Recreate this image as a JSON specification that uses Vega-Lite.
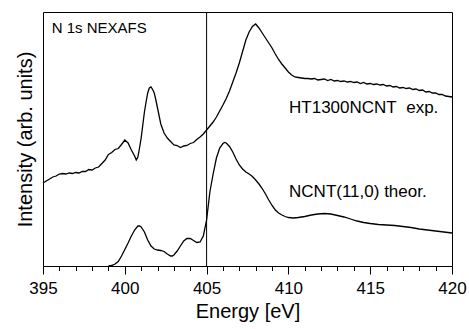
{
  "$schema": "https://vega.github.io/schema/vega-lite/v6.json",
  "width": 409,
  "height": 254,
  "autosize": "none",
  "padding": {"left": 43, "top": 12, "right": 17, "bottom": 63},
  "background": "white",
  "config": {
    "view": {"stroke": "black", "strokeWidth": 1},
    "font": "Liberation Sans",
    "axis": {"labelColor": "black", "titleColor": "black", "tickColor": "black", "titleFontWeight": "normal", "grid": false},
    "axisX": {"labelOverlap": false, "labelFlush": false, "labelBound": false}
  },
  "resolve": {"axis": {"x": "independent"}},
  "datasets": {
    "exp": [
      {"energy": 395.0, "intensity": 83}, {"energy": 395.2, "intensity": 85}, {"energy": 395.4, "intensity": 87},
      {"energy": 395.6, "intensity": 89}, {"energy": 395.8, "intensity": 90}, {"energy": 396.0, "intensity": 92},
      {"energy": 396.2, "intensity": 92.5}, {"energy": 396.4, "intensity": 92}, {"energy": 396.6, "intensity": 93},
      {"energy": 396.8, "intensity": 92.5}, {"energy": 397.0, "intensity": 93.5}, {"energy": 397.2, "intensity": 93},
      {"energy": 397.4, "intensity": 94.5}, {"energy": 397.6, "intensity": 94.5}, {"energy": 397.8, "intensity": 96.5},
      {"energy": 398.0, "intensity": 96}, {"energy": 398.2, "intensity": 98}, {"energy": 398.4, "intensity": 99},
      {"energy": 398.6, "intensity": 102.5}, {"energy": 398.8, "intensity": 106}, {"energy": 399.0, "intensity": 111.5},
      {"energy": 399.2, "intensity": 113.5}, {"energy": 399.4, "intensity": 116.5}, {"energy": 399.6, "intensity": 117.5},
      {"energy": 399.8, "intensity": 121.5}, {"energy": 400.0, "intensity": 126}, {"energy": 400.2, "intensity": 123},
      {"energy": 400.4, "intensity": 116}, {"energy": 400.6, "intensity": 110}, {"energy": 400.7, "intensity": 106},
      {"energy": 400.8, "intensity": 109}, {"energy": 400.9, "intensity": 118}, {"energy": 401.0, "intensity": 128},
      {"energy": 401.1, "intensity": 141}, {"energy": 401.2, "intensity": 154}, {"energy": 401.3, "intensity": 164},
      {"energy": 401.4, "intensity": 173}, {"energy": 401.5, "intensity": 178}, {"energy": 401.6, "intensity": 179},
      {"energy": 401.7, "intensity": 176.5}, {"energy": 401.8, "intensity": 173}, {"energy": 401.9, "intensity": 166},
      {"energy": 402.0, "intensity": 158}, {"energy": 402.1, "intensity": 150}, {"energy": 402.2, "intensity": 142},
      {"energy": 402.4, "intensity": 133}, {"energy": 402.6, "intensity": 128}, {"energy": 402.8, "intensity": 124.5},
      {"energy": 403.0, "intensity": 121}, {"energy": 403.2, "intensity": 120.5}, {"energy": 403.4, "intensity": 118.5},
      {"energy": 403.6, "intensity": 120}, {"energy": 403.8, "intensity": 120.5}, {"energy": 404.0, "intensity": 122.5},
      {"energy": 404.2, "intensity": 123.5}, {"energy": 404.4, "intensity": 126.5}, {"energy": 404.6, "intensity": 129},
      {"energy": 404.8, "intensity": 132}, {"energy": 405.0, "intensity": 136}, {"energy": 405.2, "intensity": 140},
      {"energy": 405.4, "intensity": 144}, {"energy": 405.6, "intensity": 149}, {"energy": 405.8, "intensity": 155},
      {"energy": 406.0, "intensity": 161}, {"energy": 406.2, "intensity": 167.5}, {"energy": 406.4, "intensity": 175},
      {"energy": 406.6, "intensity": 184}, {"energy": 406.8, "intensity": 193}, {"energy": 407.0, "intensity": 203},
      {"energy": 407.2, "intensity": 214.5}, {"energy": 407.4, "intensity": 226}, {"energy": 407.6, "intensity": 234},
      {"energy": 407.8, "intensity": 239.5}, {"energy": 408.0, "intensity": 242}, {"energy": 408.2, "intensity": 238},
      {"energy": 408.4, "intensity": 233}, {"energy": 408.6, "intensity": 228}, {"energy": 408.8, "intensity": 223},
      {"energy": 409.0, "intensity": 218}, {"energy": 409.2, "intensity": 212}, {"energy": 409.4, "intensity": 206.5},
      {"energy": 409.6, "intensity": 202}, {"energy": 409.8, "intensity": 198}, {"energy": 410.0, "intensity": 194},
      {"energy": 410.2, "intensity": 191}, {"energy": 410.4, "intensity": 189}, {"energy": 410.6, "intensity": 188.5},
      {"energy": 410.8, "intensity": 188}, {"energy": 411.0, "intensity": 187.5}, {"energy": 411.2, "intensity": 187.5},
      {"energy": 411.4, "intensity": 187}, {"energy": 411.6, "intensity": 187.5}, {"energy": 411.8, "intensity": 186},
      {"energy": 412.0, "intensity": 186.5}, {"energy": 412.2, "intensity": 187}, {"energy": 412.4, "intensity": 185.5},
      {"energy": 412.6, "intensity": 186.5}, {"energy": 412.8, "intensity": 185}, {"energy": 413.0, "intensity": 185.5},
      {"energy": 413.2, "intensity": 184.5}, {"energy": 413.4, "intensity": 185}, {"energy": 413.6, "intensity": 184},
      {"energy": 413.8, "intensity": 184.5}, {"energy": 414.0, "intensity": 183.5}, {"energy": 414.2, "intensity": 184},
      {"energy": 414.4, "intensity": 182.5}, {"energy": 414.6, "intensity": 183.5}, {"energy": 414.8, "intensity": 182},
      {"energy": 415.0, "intensity": 182.5}, {"energy": 415.2, "intensity": 181.5}, {"energy": 415.4, "intensity": 182},
      {"energy": 415.6, "intensity": 181}, {"energy": 415.8, "intensity": 181.5}, {"energy": 416.0, "intensity": 180},
      {"energy": 416.2, "intensity": 180.5}, {"energy": 416.4, "intensity": 179}, {"energy": 416.6, "intensity": 179.5},
      {"energy": 416.8, "intensity": 178}, {"energy": 417.0, "intensity": 178.5}, {"energy": 417.2, "intensity": 177.5},
      {"energy": 417.4, "intensity": 178}, {"energy": 417.6, "intensity": 176.5}, {"energy": 417.8, "intensity": 177},
      {"energy": 418.0, "intensity": 175.5}, {"energy": 418.2, "intensity": 176}, {"energy": 418.4, "intensity": 174},
      {"energy": 418.6, "intensity": 174.5}, {"energy": 418.8, "intensity": 173}, {"energy": 419.0, "intensity": 173},
      {"energy": 419.2, "intensity": 171.5}, {"energy": 419.4, "intensity": 171.5}, {"energy": 419.6, "intensity": 170},
      {"energy": 419.8, "intensity": 169.5}, {"energy": 420.0, "intensity": 169}
    ],
    "theory": [
      {"energy": 399.0, "intensity": 0}, {"energy": 399.2, "intensity": 0.5}, {"energy": 399.4, "intensity": 2},
      {"energy": 399.6, "intensity": 4.5}, {"energy": 399.8, "intensity": 10}, {"energy": 400.0, "intensity": 16.5},
      {"energy": 400.2, "intensity": 23}, {"energy": 400.4, "intensity": 30}, {"energy": 400.6, "intensity": 36},
      {"energy": 400.8, "intensity": 40}, {"energy": 400.9, "intensity": 40}, {"energy": 401.0, "intensity": 39},
      {"energy": 401.2, "intensity": 34}, {"energy": 401.4, "intensity": 26}, {"energy": 401.6, "intensity": 20},
      {"energy": 401.8, "intensity": 17}, {"energy": 402.0, "intensity": 16}, {"energy": 402.2, "intensity": 15.5},
      {"energy": 402.4, "intensity": 14.5}, {"energy": 402.6, "intensity": 12}, {"energy": 402.8, "intensity": 10},
      {"energy": 402.9, "intensity": 10}, {"energy": 403.0, "intensity": 11}, {"energy": 403.2, "intensity": 15},
      {"energy": 403.4, "intensity": 20}, {"energy": 403.6, "intensity": 25}, {"energy": 403.8, "intensity": 27.5},
      {"energy": 404.0, "intensity": 27.5}, {"energy": 404.2, "intensity": 25.5}, {"energy": 404.4, "intensity": 23.5},
      {"energy": 404.6, "intensity": 24}, {"energy": 404.8, "intensity": 30}, {"energy": 405.0, "intensity": 46},
      {"energy": 405.2, "intensity": 74}, {"energy": 405.4, "intensity": 92}, {"energy": 405.6, "intensity": 108},
      {"energy": 405.8, "intensity": 118}, {"energy": 406.0, "intensity": 122.5}, {"energy": 406.1, "intensity": 123.5},
      {"energy": 406.2, "intensity": 123}, {"energy": 406.4, "intensity": 119.5}, {"energy": 406.6, "intensity": 114},
      {"energy": 406.8, "intensity": 107}, {"energy": 407.0, "intensity": 101}, {"energy": 407.2, "intensity": 97},
      {"energy": 407.4, "intensity": 94}, {"energy": 407.6, "intensity": 92}, {"energy": 407.8, "intensity": 89.5},
      {"energy": 408.0, "intensity": 86}, {"energy": 408.2, "intensity": 82}, {"energy": 408.4, "intensity": 77.5},
      {"energy": 408.6, "intensity": 72}, {"energy": 408.8, "intensity": 66}, {"energy": 409.0, "intensity": 60.5},
      {"energy": 409.2, "intensity": 56}, {"energy": 409.4, "intensity": 53}, {"energy": 409.6, "intensity": 51},
      {"energy": 409.8, "intensity": 49.5}, {"energy": 410.0, "intensity": 48.5}, {"energy": 410.3, "intensity": 48},
      {"energy": 410.6, "intensity": 48.5}, {"energy": 411.0, "intensity": 49.5}, {"energy": 411.4, "intensity": 51},
      {"energy": 411.8, "intensity": 52}, {"energy": 412.2, "intensity": 52.5}, {"energy": 412.6, "intensity": 52},
      {"energy": 413.0, "intensity": 50.5}, {"energy": 413.4, "intensity": 49}, {"energy": 413.8, "intensity": 47},
      {"energy": 414.2, "intensity": 45}, {"energy": 414.6, "intensity": 43.5}, {"energy": 415.0, "intensity": 42.5},
      {"energy": 415.5, "intensity": 41.5}, {"energy": 416.0, "intensity": 41}, {"energy": 416.5, "intensity": 40.5},
      {"energy": 417.0, "intensity": 39.5}, {"energy": 417.5, "intensity": 38.5}, {"energy": 418.0, "intensity": 37},
      {"energy": 418.5, "intensity": 36}, {"energy": 419.0, "intensity": 35}, {"energy": 419.5, "intensity": 34},
      {"energy": 420.0, "intensity": 33}
    ],
    "marker": [{"energy": 405}],
    "notes": [
      {"energy": 395.53, "intensity": 233, "label": "N 1s NEXAFS", "kind": "title"},
      {"energy": 410.04, "intensity": 153.3, "label": "HT1300NCNT\u00a0\u00a0exp.", "kind": "curve"},
      {"energy": 410.04, "intensity": 69.3, "label": "NCNT(11,0) theor.", "kind": "curve"}
    ]
  },
  "layer": [
    {
      "data": {"name": "exp"},
      "mark": {"type": "line", "color": "black", "strokeWidth": 1.3},
      "encoding": {
        "x": {
          "field": "energy", "type": "quantitative",
          "scale": {"domain": [395, 420], "nice": false},
          "axis": {
            "orient": "bottom",
            "title": null,
            "values": [396,397,398,399,401,402,403,404,406,407,408,409,411,412,413,414,416,417,418,419],
            "labels": false,
            "tickSize": 4.5,
            "tickWidth": 1,
            "domain": false
          }
        },
        "y": {
          "field": "intensity", "type": "quantitative",
          "scale": {"domain": [0, 254], "nice": false},
          "axis": {
            "title": "Intensity (arb. units)",
            "labels": false, "ticks": false, "domain": false,
            "titleFontSize": 20,
            "titlePadding": 8
          }
        }
      }
    },
    {
      "data": {"name": "theory"},
      "mark": {"type": "line", "color": "black", "strokeWidth": 1.3},
      "encoding": {
        "x": {"field": "energy", "type": "quantitative", "axis": null},
        "y": {"field": "intensity", "type": "quantitative"}
      }
    },
    {
      "data": {"name": "marker"},
      "mark": {"type": "rule", "color": "black", "strokeWidth": 1},
      "encoding": {
        "x": {
          "field": "energy", "type": "quantitative",
          "axis": {
            "orient": "bottom",
            "title": "Energy [eV]",
            "values": [395, 400, 405, 410, 415, 420],
            "tickSize": 8,
            "tickWidth": 1,
            "domain": false,
            "labelFontSize": 17,
            "labelPadding": 6,
            "titleFontSize": 20,
            "titlePadding": 5
          }
        }
      }
    },
    {
      "data": {"name": "notes"},
      "transform": [{"filter": "datum.kind === 'title'"}],
      "mark": {"type": "text", "align": "left", "baseline": "alphabetic", "fontSize": 15, "color": "black"},
      "encoding": {
        "x": {"field": "energy", "type": "quantitative", "axis": null},
        "y": {"field": "intensity", "type": "quantitative"},
        "text": {"field": "label"}
      }
    },
    {
      "data": {"name": "notes"},
      "transform": [{"filter": "datum.kind === 'curve'"}],
      "mark": {"type": "text", "align": "left", "baseline": "alphabetic", "fontSize": 17, "color": "black"},
      "encoding": {
        "x": {"field": "energy", "type": "quantitative", "axis": null},
        "y": {"field": "intensity", "type": "quantitative"},
        "text": {"field": "label"}
      }
    }
  ]
}
